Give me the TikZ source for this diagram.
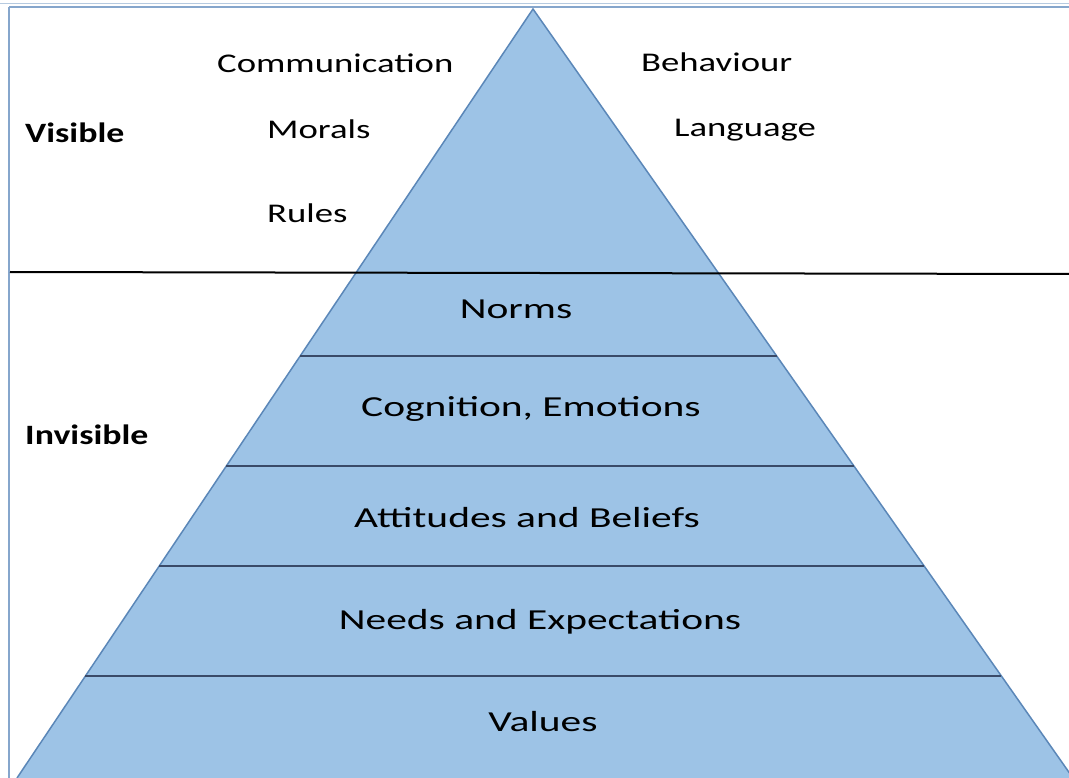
\documentclass[tikz,border=0pt]{standalone}
\usepackage{fontspec}
\usetikzlibrary{calc}
\newfontfamily\upperfont[FakeStretch=1.36]{Carlito}
\newfontfamily\layerfont[FakeStretch=1.43]{Carlito}
\newfontfamily\sidefont[FakeStretch=1.28]{Carlito}
\definecolor{pyrfill}{HTML}{9DC3E6}
\definecolor{pyredge}{HTML}{5B87B8}
\definecolor{bandline}{HTML}{3A4A68}
\definecolor{framecol}{HTML}{86A6CC}
\begin{document}
\begin{tikzpicture}[x=1pt,y=-1pt,
  lbl/.style={font=\upperfont\fontsize{27}{31}\selectfont, text=black, inner sep=0pt, anchor=west},
  layer/.style={font=\layerfont\fontsize{29}{33}\selectfont, text=black, inner sep=0pt},
  side/.style={font=\sidefont\bfseries\fontsize{28}{32}\selectfont, text=black, inner sep=0pt, anchor=west},
  band/.style={draw=bandline, line width=2.2pt},
  divider/.style={draw=black, line width=2pt}]
  \useasboundingbox (0,0) rectangle (1069,778);
  \begin{scope}
    \clip (0,0) rectangle (1069,778);
    % frame
    \draw[framecol!60, line width=1pt] (0,4) -- (1069,4);
    \draw[framecol, line width=1.5pt] (9,7) -- (1069,7);
    \draw[framecol, line width=2pt] (9,7) -- (9,790);
    % pyramid
    \coordinate (apex) at (533,9);
    \coordinate (bl) at (17,778);
    \coordinate (br) at (1073,778);
    \fill[pyrfill] (apex) -- (br) -- (bl) -- cycle;
    \draw[pyredge, line width=1.5pt, line join=miter] (bl) -- (apex) -- (br);
    % layer boundaries (same fraction down both edges)
    \foreach \t/\n in {0.4512/a,0.5943/b,0.7243/c,0.8674/d}{
      \coordinate (l\n) at ($(apex)!\t!(bl)$);
      \coordinate (r\n) at ($(apex)!\t!(br)$);
      \draw[band] (l\n) -- (r\n);
    }
    % visible / invisible divider
    \coordinate (dl) at (10,272);
    \coordinate (dr) at (1069,274);
    \draw[divider] (dl) -- (dr);
  \end{scope}
  % labels above the divider
  \node[lbl] (comm) at (217,63) {Communication};
  \node[lbl] (behav) at (641,62) {Behaviour};
  \node[lbl] (morals) at (267,129) {Morals};
  \node[lbl] (lang) at (674,130) {Language};
  \node[lbl] (rules) at (267,213) {Rules};
  \node[side] (vis) at (25,133) {Visible};
  \node[side] (invis) at (25,435) {Invisible};
  % layer names
  \node[layer] (norms) at (516,309) {Norms};
  \node[layer] (cog) at (531,409) {Cognition, Emotions};
  \node[layer] (att) at (527,518) {Attitudes and Beliefs};
  \node[layer] (needs) at (540,622) {Needs and Expectations};
  \node[layer] (values) at (543,722) {Values};
\end{tikzpicture}
\end{document}
